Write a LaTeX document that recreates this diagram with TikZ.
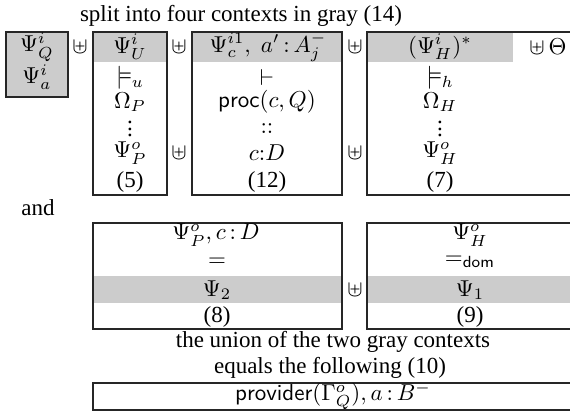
\documentclass[tikz,border=0pt]{standalone}
\usepackage{amsmath,amssymb}
\usepackage{fontspec}
\setmainfont{Liberation Serif}
\definecolor{ctxgray}{gray}{0.8}
\newcommand{\tvdots}{\vbox{\baselineskip2.8pt\lineskiplimit-5pt\lineskip0pt\hbox{.}\hbox{.}\hbox{.}}}
\newcommand{\ccolon}{\,{:}\,}
\begin{document}
\begin{tikzpicture}[x=0.4348pt,y=-0.4348pt,
  box/.style={draw=black!85, line width=0.5pt},
  lbl/.style={inner sep=0pt, anchor=center},
]
\useasboundingbox (0,0) rectangle (570,413);
% title
\node[lbl] (title) at (241,16) {split into four contexts in gray (14)};
% gray fills
\fill[ctxgray] (6,32) rectangle (68,97);
\fill[ctxgray] (93,32) rectangle (167,62);
\fill[ctxgray] (192,32) rectangle (342,62);
\fill[ctxgray] (367,32) rectangle (513,62);
\fill[ctxgray] (93,276) rectangle (342,303);
\fill[ctxgray] (367,276) rectangle (570,303);
% boxes
\draw[box] (6,32) rectangle (68,97);
\draw[box] (93,32) rectangle (167,195);
\draw[box] (192,32) rectangle (342,195);
\draw[box] (571,32) -- (367,32) -- (367,195) -- (571,195);
\draw[box] (93,223) rectangle (342,329);
\draw[box] (571,223) -- (367,223) -- (367,329) -- (571,329);
\draw[box] (571,383) -- (93,383) -- (93,410) -- (571,410);
% column Q
\node[lbl] (q1) at (37,47) {$\Psi_Q^i$};
\node[lbl] (q2) at (37,77) {$\Psi_a^i$};
% separators
\node[lbl] (s1) at (80,47) {$\uplus$};
\node[lbl] (s2) at (179,47) {$\uplus$};
\node[lbl] (s3) at (179,153) {$\uplus$};
\node[lbl] (s4) at (355,47) {$\uplus$};
\node[lbl] (s5) at (355,153) {$\uplus$};
\node[lbl] (s6) at (548,47) {$\uplus\,\Theta$};
% column U
\node[lbl] (u1) at (130,47) {$\Psi_U^i$};
\node[lbl] (u2) at (130,78) {$\models_u$};
\node[lbl] (u3) at (130,102) {$\Omega_P$};
\node[lbl] (u4) at (130,129) {\tvdots};
\node[lbl] (u5) at (130,153) {$\Psi_P^o$};
\node[lbl] (u6) at (130,182) {(5)};
% column c
\node[lbl] (c1) at (268,47) {$\Psi_c^{i1},\; a'\ccolon A_j^-$};
\node[lbl] (c2) at (267,78) {$\vdash$};
\node[lbl] (c3) at (267,102) {$\mathsf{proc}(c,Q)$};
\node[lbl] (c4) at (267,129) {${:}{:}$};
\node[lbl] (c5) at (267,153) {$c{:}D$};
\node[lbl] (c6) at (267,182) {(12)};
% column H
\node[lbl] (h1) at (440,47) {$(\Psi_H^i)^*$};
\node[lbl] (h2) at (440,78) {$\models_h$};
\node[lbl] (h3) at (440,102) {$\Omega_H$};
\node[lbl] (h4) at (440,129) {\tvdots};
\node[lbl] (h5) at (440,153) {$\Psi_H^o$};
\node[lbl] (h6) at (440,182) {(7)};
% and
\node[lbl] (and) at (38,208) {and};
% lower left box
\node[lbl] (p1) at (216,235) {$\Psi_P^o, c\ccolon D$};
\node[lbl] (p2) at (217,262) {$=$};
\node[lbl] (p3) at (217,290) {$\Psi_2$};
\node[lbl] (p4) at (217,317) {(8)};
\node[lbl] (s7) at (355,290) {$\uplus$};
% lower right box
\node[lbl] (r1) at (470,235) {$\Psi_H^o$};
\node[lbl] (r2) at (470,262) {$=_{\mathsf{dom}}$};
\node[lbl] (r3) at (470,290) {$\Psi_1$};
\node[lbl] (r4) at (470,317) {(9)};
% bottom text
\node[lbl] (t1) at (333,342) {the union of the two gray contexts};
\node[lbl] (t2) at (330,368) {equals the following (10)};
\node[lbl] (prov) at (333,396) {$\mathsf{provider}(\Gamma_Q^o), a\ccolon B^-$};
\end{tikzpicture}
\end{document}
